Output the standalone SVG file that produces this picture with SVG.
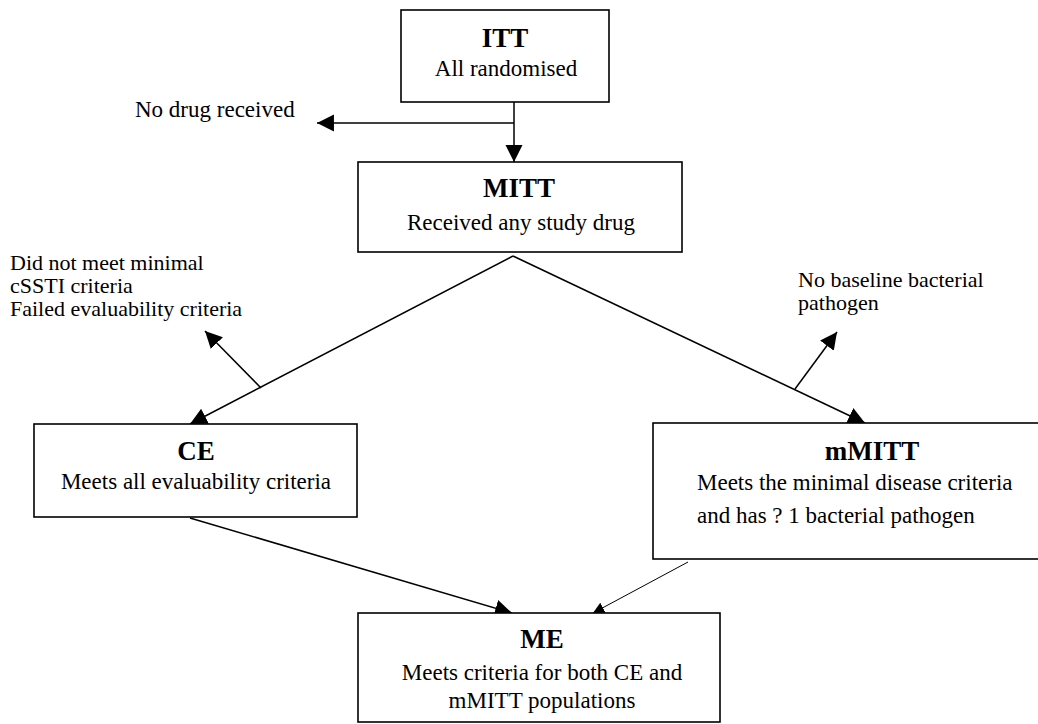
<svg xmlns="http://www.w3.org/2000/svg" width="1038" height="724" viewBox="0 0 1038 724">
  <defs>
    <style>
      .box { fill: #ffffff; stroke: #000000; stroke-width: 1.6; }
      .t { font-family: "Liberation Serif", "Times New Roman", serif; font-size: 23px; fill: #000000; }
      .s { font-size: 22px; }
      .b { font-family: "Liberation Serif", "Times New Roman", serif; font-size: 27px; font-weight: bold; fill: #000000; }
      .c { text-anchor: middle; }
      .ln { fill: none; stroke: #000000; stroke-width: 1.5; }
      .thin { stroke-width: 1; }
    </style>
    <marker id="ah" viewBox="0 0 12 12" refX="12" refY="6" markerWidth="11.3" markerHeight="12" orient="auto" markerUnits="strokeWidth">
      <path d="M0,0 L12,6 L0,12 z" fill="#000000"/>
    </marker>
  </defs>
  <rect width="1038" height="724" fill="#ffffff"/>

  <g id="connectors">
    <line class="ln" x1="514" y1="102" x2="514" y2="162" marker-end="url(#ah)"/>
    <line class="ln" x1="514" y1="123" x2="317" y2="123" marker-end="url(#ah)"/>
    <line class="ln" x1="513" y1="256" x2="190" y2="424" marker-end="url(#ah)"/>
    <line class="ln" x1="513" y1="256" x2="865" y2="423" marker-end="url(#ah)"/>
    <line class="ln" x1="261" y1="388" x2="205" y2="331" marker-end="url(#ah)"/>
    <line class="ln" x1="795" y1="389" x2="837" y2="332" marker-end="url(#ah)"/>
    <line class="ln" x1="190" y1="518" x2="512" y2="613" marker-end="url(#ah)"/>
    <line class="ln thin" x1="688" y1="562" x2="593" y2="613" marker-end="url(#ah)"/>
  </g>

  <g id="label-no-drug">
    <text class="t" x="135" y="117">No drug received</text>
  </g>
  <g id="label-left-exclusion">
    <text class="t s" x="10" y="270">Did not meet minimal</text>
    <text class="t s" x="10" y="293">cSSTI criteria</text>
    <text class="t s" x="10" y="316">Failed evaluability criteria</text>
  </g>
  <g id="label-right-exclusion">
    <text class="t s" x="798" y="287">No baseline bacterial</text>
    <text class="t s" x="798" y="310">pathogen</text>
  </g>

  <g id="node-itt">
    <rect class="box" x="401" y="10" width="208" height="92"/>
    <text class="b c" x="505" y="47">ITT</text>
    <text class="t c" x="506" y="76">All randomised</text>
  </g>

  <g id="node-mitt">
    <rect class="box" x="358" y="162" width="324" height="90"/>
    <text class="b c" x="519" y="197">MITT</text>
    <text class="t c" x="521" y="230">Received any study drug</text>
  </g>

  <g id="node-ce">
    <rect class="box" x="34" y="424" width="323" height="93"/>
    <text class="b c" x="196" y="460">CE</text>
    <text class="t c" x="196" y="489">Meets all evaluability criteria</text>
  </g>

  <g id="node-mmitt">
    <rect class="box" x="653" y="423" width="400" height="136"/>
    <text class="b c" x="872" y="460">mMITT</text>
    <text class="t" x="697" y="490">Meets the minimal disease criteria</text>
    <text class="t" x="697" y="523">and has ? 1 bacterial pathogen</text>
  </g>

  <g id="node-me">
    <rect class="box" x="358" y="613" width="362" height="109"/>
    <text class="b c" x="542" y="648">ME</text>
    <text class="t c" x="542" y="680">Meets criteria for both CE and</text>
    <text class="t c" x="542" y="708">mMITT populations</text>
  </g>
</svg>
